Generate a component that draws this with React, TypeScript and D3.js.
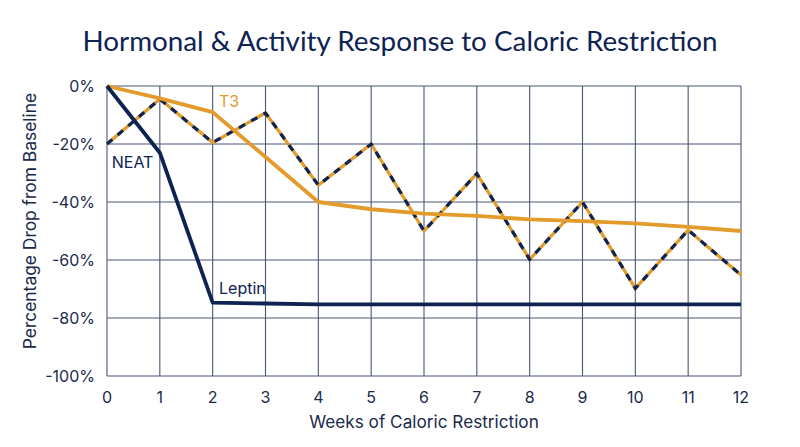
import React, { useEffect, useRef } from 'react';
import * as d3 from 'd3';

const weeks = [0, 1, 2, 3, 4, 5, 6, 7, 8, 9, 10, 11, 12];
const leptin = [0, -23, -74.7, -75, -75.3, -75.3, -75.3, -75.3, -75.3, -75.3, -75.3, -75.3, -75.3];
const t3 = [0, -4.3, -9, -24.5, -40, -42.5, -44, -44.8, -46, -46.6, -47.4, -48.6, -50];
const neat = [-20, -4.5, -19.5, -9.3, -34.2, -20, -50, -30.2, -59.8, -40, -69.8, -49.7, -65.2];
const yTicks = [0, -20, -40, -60, -80, -100];

const NAVY = '#0e2352';
const TEXT = '#1a2a4c';
const ORANGE = '#e39b2b';
const GRID = '#4b5675';

const App: React.FC = () => {
  const svgRef = useRef<SVGSVGElement>(null);

  useEffect(() => {
    if (!svgRef.current) return;
    const width = 800;
    const height = 447;
    const svg = d3.select(svgRef.current);
    svg.selectAll('*').remove();
    svg.attr('width', width).attr('height', height);

    const x = d3.scaleLinear().domain([0, 12]).range([107, 741]);
    const y = d3.scaleLinear().domain([-100, 0]).range([376, 86]);

    // Title
    svg.append('text')
      .attr('x', 400).attr('y', 51)
      .attr('text-anchor', 'middle')
      .style('font-family', 'Lato, sans-serif')
      .style('font-size', '27.8px')
      .style('fill', NAVY)
      .text('Hormonal & Activity Response to Caloric Restriction');

    // Grid
    const grid = svg.append('g');
    grid.selectAll('line.h').data(yTicks).enter().append('line')
      .attr('x1', x(0)).attr('x2', x(12))
      .attr('y1', d => y(d)).attr('y2', d => y(d))
      .attr('stroke', GRID).attr('stroke-width', 1.1);
    grid.selectAll('line.v').data(weeks).enter().append('line')
      .attr('x1', d => x(d)).attr('x2', d => x(d))
      .attr('y1', y(0)).attr('y2', y(-100))
      .attr('stroke', GRID).attr('stroke-width', 1.1);

    // Tick labels
    svg.append('g').selectAll('text').data(weeks).enter().append('text')
      .attr('x', d => x(d)).attr('y', 403)
      .attr('text-anchor', 'middle')
      .style('font-family', 'Inter, sans-serif')
      .style('font-size', '16px')
      .style('fill', TEXT)
      .text(d => String(d));
    svg.append('g').selectAll('text').data(yTicks).enter().append('text')
      .attr('x', 95).attr('y', d => y(d) + 5.5)
      .attr('text-anchor', 'end')
      .style('font-family', 'Inter, sans-serif')
      .style('font-size', '16px')
      .style('fill', TEXT)
      .text(d => `${d}%`);

    // Axis titles
    svg.append('text')
      .attr('x', x(6)).attr('y', 428)
      .attr('text-anchor', 'middle')
      .style('font-family', 'Inter, sans-serif')
      .style('font-size', '17.2px')
      .style('fill', TEXT)
      .text('Weeks of Caloric Restriction');
    svg.append('text')
      .attr('transform', 'translate(36,221) rotate(-90)')
      .attr('text-anchor', 'middle')
      .style('font-family', 'Inter, sans-serif')
      .style('font-size', '17.4px')
      .style('fill', TEXT)
      .text('Percentage Drop from Baseline');

    const line = d3.line<number>().x((_, i) => x(weeks[i])).y(d => y(d));

    // NEAT: orange under, navy dashes on top
    svg.append('path').attr('d', line(neat) || '')
      .attr('fill', 'none').attr('stroke', ORANGE).attr('stroke-width', 3.2)
      .attr('stroke-linejoin', 'round');
    svg.append('path').attr('d', line(neat) || '')
      .attr('fill', 'none').attr('stroke', NAVY).attr('stroke-width', 3.2)
      .attr('stroke-dasharray', '7,7');

    // T3
    svg.append('path').attr('d', line(t3) || '')
      .attr('fill', 'none').attr('stroke', ORANGE).attr('stroke-width', 3.8)
      .attr('stroke-linejoin', 'round');

    // Leptin
    svg.append('path').attr('d', line(leptin) || '')
      .attr('fill', 'none').attr('stroke', NAVY).attr('stroke-width', 3.8)
      .attr('stroke-linejoin', 'round');

    // Labels
    const lab = (t: string, wx: number, vy: number, c: string) =>
      svg.append('text')
        .attr('x', x(wx)).attr('y', y(vy))
        .style('font-family', 'Inter, sans-serif')
        .style('font-size', '16px')
        .style('fill', c)
        .text(t);
    lab('T3', 2.12, -7.2, ORANGE);
    lab('NEAT', 0.09, -28.4, NAVY);
    lab('Leptin', 2.12, -71.8, NAVY);
  }, []);

  return <svg ref={svgRef} style={{ position: 'absolute', left: 0, top: 0 }}></svg>;
};

export default App;
